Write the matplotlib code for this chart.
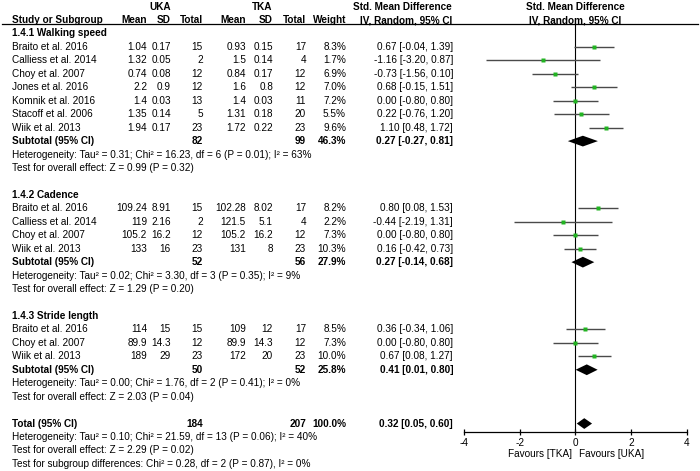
import matplotlib
matplotlib.use("Agg")
import matplotlib.pyplot as plt
from matplotlib.transforms import blended_transform_factory

plt.rcParams['font.family'] = ['Liberation Sans', 'DejaVu Sans']
FS = 7.2

# ---- data ----
group_titles = ["1.4.1 Walking speed", "1.4.2 Cadence", "1.4.3 Stride length"]

ws_study = ["Braito et al. 2016", "Calliess et al. 2014", "Choy et al. 2007", "Jones et al. 2016",
            "Komnik et al. 2016", "Stacoff et al. 2006", "Wiik et al. 2013"]
ws_uka_mean = [1.04, 1.32, 0.74, 2.2, 1.4, 1.35, 1.94]
ws_uka_sd = [0.17, 0.05, 0.08, 0.9, 0.03, 0.14, 0.17]
ws_uka_n = [15, 2, 12, 12, 13, 5, 23]
ws_tka_mean = [0.93, 1.5, 0.84, 1.6, 1.4, 1.31, 1.72]
ws_tka_sd = [0.15, 0.14, 0.17, 0.8, 0.03, 0.18, 0.22]
ws_tka_n = [17, 4, 12, 12, 11, 20, 23]
ws_weight = [8.3, 1.7, 6.9, 7.0, 7.2, 5.5, 9.6]
ws_smd = [0.67, -1.16, -0.73, 0.68, 0.00, 0.22, 1.10]
ws_lo = [-0.04, -3.20, -1.56, -0.15, -0.80, -0.76, 0.48]
ws_hi = [1.39, 0.87, 0.10, 1.51, 0.80, 1.20, 1.72]

cd_study = ["Braito et al. 2016", "Calliess et al. 2014", "Choy et al. 2007", "Wiik et al. 2013"]
cd_uka_mean = [109.24, 119, 105.2, 133]
cd_uka_sd = [8.91, 2.16, 16.2, 16]
cd_uka_n = [15, 2, 12, 23]
cd_tka_mean = [102.28, 121.5, 105.2, 131]
cd_tka_sd = [8.02, 5.1, 16.2, 8]
cd_tka_n = [17, 4, 12, 23]
cd_weight = [8.2, 2.2, 7.3, 10.3]
cd_smd = [0.80, -0.44, 0.00, 0.16]
cd_lo = [0.08, -2.19, -0.80, -0.42]
cd_hi = [1.53, 1.31, 0.80, 0.73]

sl_study = ["Braito et al. 2016", "Choy et al. 2007", "Wiik et al. 2013"]
sl_uka_mean = [114, 89.9, 189]
sl_uka_sd = [15, 14.3, 29]
sl_uka_n = [15, 12, 23]
sl_tka_mean = [109, 89.9, 172]
sl_tka_sd = [12, 14.3, 20]
sl_tka_n = [17, 12, 23]
sl_weight = [8.5, 7.3, 10.0]
sl_smd = [0.36, 0.00, 0.67]
sl_lo = [-0.34, -0.80, 0.08]
sl_hi = [1.06, 0.80, 1.27]

sub_uka_n = [82, 52, 50]
sub_tka_n = [99, 56, 52]
sub_weight = [46.3, 27.9, 25.8]
sub_smd = [0.27, 0.27, 0.41]
sub_lo = [-0.27, -0.14, 0.01]
sub_hi = [0.81, 0.68, 0.80]
sub_het = ["Heterogeneity: Tau² = 0.31; Chi² = 16.23, df = 6 (P = 0.01); I² = 63%",
           "Heterogeneity: Tau² = 0.02; Chi² = 3.30, df = 3 (P = 0.35); I² = 9%",
           "Heterogeneity: Tau² = 0.00; Chi² = 1.76, df = 2 (P = 0.41); I² = 0%"]
sub_test = ["Test for overall effect: Z = 0.99 (P = 0.32)",
            "Test for overall effect: Z = 1.29 (P = 0.20)",
            "Test for overall effect: Z = 2.03 (P = 0.04)"]

tot_uka_n, tot_tka_n, tot_weight = 184, 207, 100.0
tot_smd, tot_lo, tot_hi = 0.32, 0.05, 0.60
tot_notes = ["Heterogeneity: Tau² = 0.10; Chi² = 21.59, df = 13 (P = 0.06); I² = 40%",
             "Test for overall effect: Z = 2.29 (P = 0.02)",
             "Test for subgroup differences: Chi² = 0.28, df = 2 (P = 0.87), I² = 0%"]

xticks = [-4, -2, 0, 2, 4]
favours = ["Favours [TKA]", "Favours [UKA]"]

groups = [
    (ws_study, ws_uka_mean, ws_uka_sd, ws_uka_n, ws_tka_mean, ws_tka_sd, ws_tka_n, ws_weight, ws_smd, ws_lo, ws_hi),
    (cd_study, cd_uka_mean, cd_uka_sd, cd_uka_n, cd_tka_mean, cd_tka_sd, cd_tka_n, cd_weight, cd_smd, cd_lo, cd_hi),
    (sl_study, sl_uka_mean, sl_uka_sd, sl_uka_n, sl_tka_mean, sl_tka_sd, sl_tka_n, sl_weight, sl_smd, sl_lo, sl_hi),
]

# column right edges (pixels)
c_name = 12
c_um, c_us, c_un = 147, 171, 203
c_tm, c_ts, c_tn = 246, 273, 306
c_w = 346
c_ci = 453

fig = plt.figure(figsize=(7, 4.71), dpi=100)
ax = fig.add_axes([0, 0, 1, 1])
ax.set_xlim(0, 700)
ax.set_ylim(34.53, -0.49)
ax.axis('off')

line_y = 1.27  # header rule, in row units
line_px = 33.5 + 13.45 * (line_y - 2)

# forest panel
fx = fig.add_axes([464 / 700, (471 - 432.3) / 471, 222.7 / 700, (432.3 - line_px) / 471])
fx.set_xlim(-4, 4)
fx.set_ylim(31.65, line_y)
fx.patch.set_alpha(0)
for s in ['top', 'left', 'right']:
    fx.spines[s].set_visible(False)
fx.spines['bottom'].set_linewidth(0.9)
fx.set_yticks([])
fx.set_xticks(xticks)
fx.set_xticklabels([str(t) for t in xticks], fontsize=FS)
fx.tick_params(axis='x', direction='inout', length=5, width=0.9, pad=1.5)
fx.axvline(0, color='black', lw=0.8)


def txt(x, y, s, ha='right', bold=False):
    ax.text(x, y, s, ha=ha, va='center', fontsize=FS, fontweight='bold' if bold else 'normal')


def ci_str(m, lo, hi):
    return "{:.2f} [{:.2f}, {:.2f}]".format(m, lo, hi)


# headers
h0, h1 = 0.05, 1.0
txt(160, h0, "UKA", ha='center', bold=True)
txt(262, h0, "TKA", ha='center', bold=True)
txt(c_ci - 1, h0, "Std. Mean Difference", bold=True)
txt(575.5, h0, "Std. Mean Difference", ha='center', bold=True)
txt(c_name, h1, "Study or Subgroup", ha='left', bold=True)
for x, s in [(c_um, "Mean"), (c_us, "SD"), (c_un, "Total"), (c_tm, "Mean"), (c_ts, "SD"),
             (c_tn, "Total"), (c_w, "Weight"), (c_ci - 1, "IV, Random, 95% CI")]:
    txt(x, h1, s, bold=True)
txt(575.5, h1, "IV, Random, 95% CI", ha='center', bold=True)
ax.plot([2, 698], [line_y, line_y], color='black', lw=0.9)

r = 2
for g, (study, um, us, un, tm, ts, tn, w, smd, lo, hi) in enumerate(groups):
    txt(c_name, r, group_titles[g], ha='left', bold=True)
    r += 1
    for i in range(len(study)):
        txt(c_name, r, study[i], ha='left')
        txt(c_um, r, "{:g}".format(um[i]))
        txt(c_us, r, "{:g}".format(us[i]))
        txt(c_un, r, str(un[i]))
        txt(c_tm, r, "{:g}".format(tm[i]))
        txt(c_ts, r, "{:g}".format(ts[i]))
        txt(c_tn, r, str(tn[i]))
        txt(c_w, r, "{:.1f}%".format(w[i]))
        txt(c_ci, r, ci_str(smd[i], lo[i], hi[i]))
        fx.plot([lo[i], hi[i]], [r, r], color='#4a4a4a', lw=1.0, solid_capstyle='butt')
        fx.plot(smd[i], r, marker='s', ms=2.6, color='#22b422', mec='none')
        r += 1
    txt(c_name, r, "Subtotal (95% CI)", ha='left', bold=True)
    txt(c_un, r, str(sub_uka_n[g]), bold=True)
    txt(c_tn, r, str(sub_tka_n[g]), bold=True)
    txt(c_w, r, "{:.1f}%".format(sub_weight[g]), bold=True)
    txt(c_ci, r, ci_str(sub_smd[g], sub_lo[g], sub_hi[g]), bold=True)
    fx.fill([sub_lo[g], sub_smd[g], sub_hi[g], sub_smd[g]], [r, r - 0.4, r, r + 0.4],
            color='black', lw=0)
    r += 1
    txt(c_name, r, sub_het[g], ha='left')
    r += 1
    txt(c_name, r, sub_test[g], ha='left')
    r += 2

# overall
txt(c_name, r, "Total (95% CI)", ha='left', bold=True)
txt(c_un, r, str(tot_uka_n), bold=True)
txt(c_tn, r, str(tot_tka_n), bold=True)
txt(c_w, r, "{:.1f}%".format(tot_weight), bold=True)
txt(c_ci, r, ci_str(tot_smd, tot_lo, tot_hi), bold=True)
fx.fill([tot_lo, tot_smd, tot_hi, tot_smd], [r, r - 0.4, r, r + 0.4], color='black', lw=0)
for k, note in enumerate(tot_notes):
    txt(c_name, r + 1 + k, note, ha='left')

# favours labels under the axis
bt = blended_transform_factory(fx.transData, ax.transData)
ax.text(-0.12, 33.26, favours[0], transform=bt, ha='right', va='center', fontsize=FS)
ax.text(0.12, 33.26, favours[1], transform=bt, ha='left', va='center', fontsize=FS)

fig.savefig("out.png", dpi=100)
